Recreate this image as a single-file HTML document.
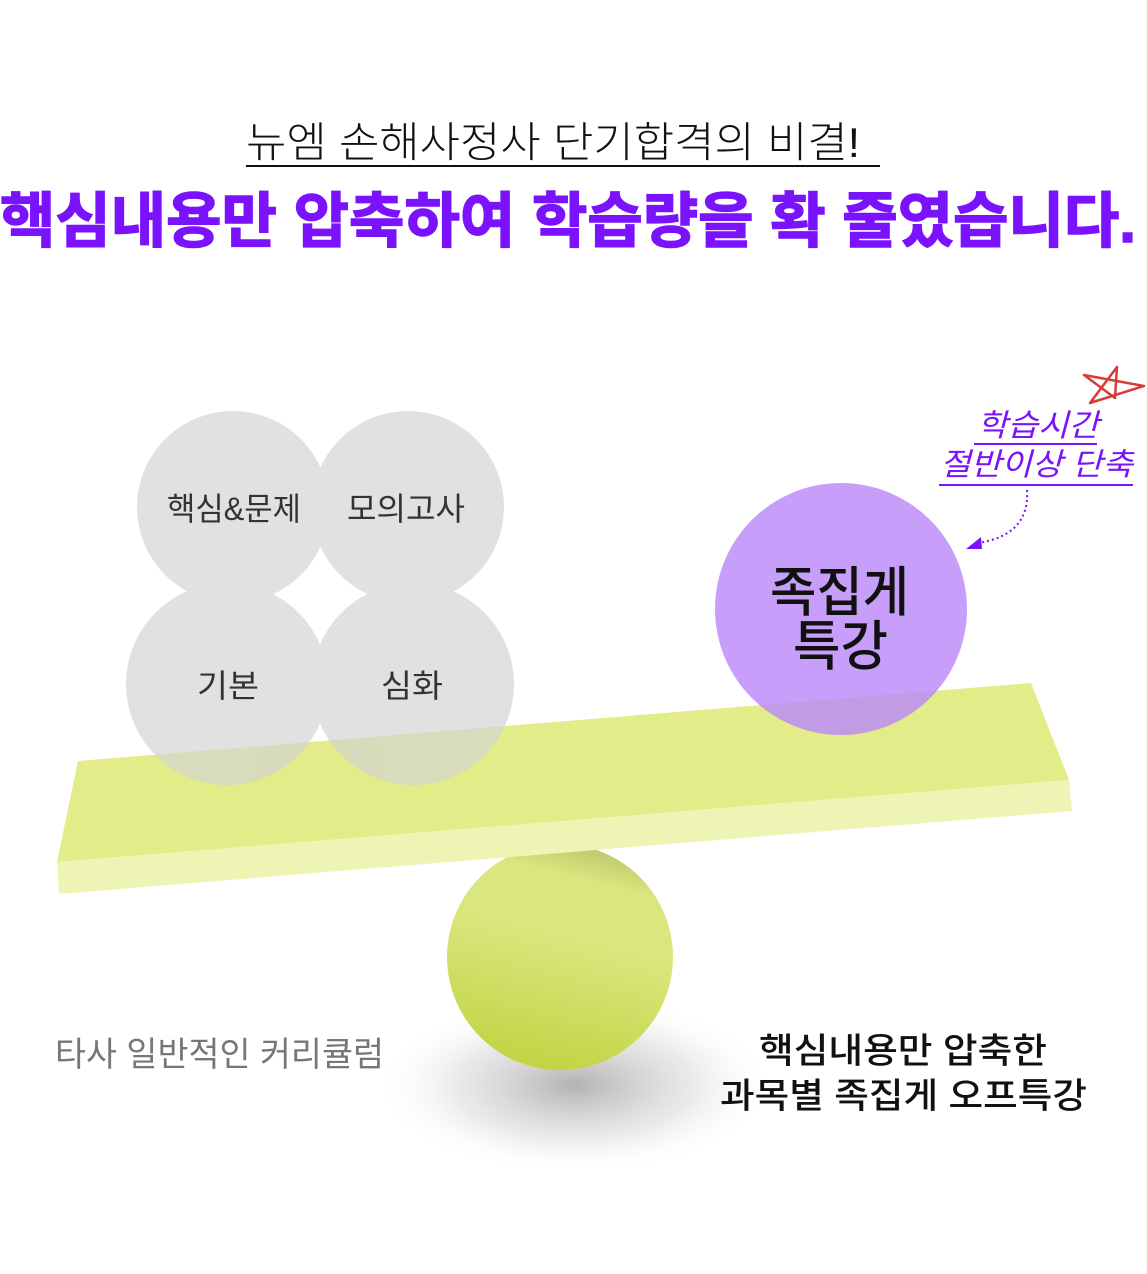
<!DOCTYPE html>
<html><head><meta charset="utf-8"><style>
html,body{margin:0;padding:0;background:#fff}
svg{display:block}
text{font-family:"Liberation Sans","Noto Sans CJK KR",sans-serif}
</style></head><body>
<svg width="1147" height="1274" viewBox="0 0 1147 1274" xmlns="http://www.w3.org/2000/svg">
<defs>
<radialGradient id="sh" cx="0.5" cy="0.5" r="0.5">
<stop offset="0" stop-color="#999" stop-opacity="0.75"/>
<stop offset="0.6" stop-color="#bbb" stop-opacity="0.3"/>
<stop offset="1" stop-color="#fff" stop-opacity="0"/>
</radialGradient>
<linearGradient id="ball" x1="0.35" y1="1" x2="0.6" y2="0">
<stop offset="0" stop-color="#c1d342"/>
<stop offset="0.6" stop-color="#dae77e"/>
<stop offset="0.85" stop-color="#dbe67f"/>
<stop offset="1" stop-color="#bcc86c"/>
</linearGradient>
</defs>

<text x="246" y="157" font-size="42" font-weight="300" fill="#111" textLength="614" lengthAdjust="spacingAndGlyphs">뉴엠 손해사정사 단기합격의 비결!</text>
<rect x="246" y="165" width="634" height="2" fill="#111"/>
<text x="568" y="242" font-size="60" font-weight="bold" fill="#7a12fb" text-anchor="middle" textLength="1136" lengthAdjust="spacingAndGlyphs" stroke="#7a12fb" stroke-width="1.5">핵심내용만 압축하여 학습량을 확 줄였습니다.</text>

<ellipse cx="575" cy="1085" rx="200" ry="90" fill="url(#sh)"/>
<circle cx="560" cy="957" r="113" fill="url(#ball)"/>

<polygon points="78,761 1031,683 1069,780 57,862" fill="#e2ec88"/>
<polygon points="57,862 1069,780 1072,811 59,894" fill="#eef5b4"/>

<g fill="#d2d4d4" opacity="0.68">
<circle cx="233" cy="507" r="96"/>
<circle cx="408" cy="507" r="96"/>
<circle cx="227" cy="684" r="101"/>
<circle cx="413" cy="684" r="101"/>
</g>
<g font-size="32" fill="#333" lengthAdjust="spacingAndGlyphs">
<text x="167" y="520" textLength="134" lengthAdjust="spacingAndGlyphs">핵심&amp;문제</text>
<text x="347" y="520" textLength="118" lengthAdjust="spacingAndGlyphs">모의고사</text>
<text x="197" y="697" textLength="62" lengthAdjust="spacingAndGlyphs">기본</text>
<text x="381" y="697" textLength="62" lengthAdjust="spacingAndGlyphs">심화</text>
</g>

<circle cx="841" cy="609" r="126" fill="#b987fa" opacity="0.8"/>
<text x="770" y="611" font-size="54" fill="#111" font-weight="500" textLength="139" lengthAdjust="spacingAndGlyphs">족집게</text>
<text x="793" y="665" font-size="54" fill="#111" font-weight="500" textLength="95" lengthAdjust="spacingAndGlyphs">특강</text>

<g fill="#7a12fb" font-style="italic" font-size="31">
<text x="977" y="436" textLength="122" lengthAdjust="spacingAndGlyphs">학습시간</text>
<text x="940" y="475" textLength="193" lengthAdjust="spacingAndGlyphs">절반이상 단축</text>
</g>
<rect x="974" y="443" width="123" height="2" fill="#7a12fb"/>
<rect x="939" y="484" width="194" height="2" fill="#7a12fb"/>
<path d="M1027 490 Q1030 535 978 543" fill="none" stroke="#7a12fb" stroke-width="2" stroke-dasharray="2,3"/>
<polygon points="966,549 981,537 982,549" fill="#7a12fb"/>
<path d="M1090 403 L1117 367 L1115 398 L1084 375 L1144 386 Z" fill="none" stroke="#d93a3a" stroke-width="2.5" stroke-linejoin="round"/>

<text x="55" y="1066" font-size="34" fill="#777" textLength="329" lengthAdjust="spacingAndGlyphs">타사 일반적인 커리큘럼</text>
<text x="759" y="1063" font-size="35" fill="#111" font-weight="500" textLength="288" lengthAdjust="spacingAndGlyphs">핵심내용만 압축한</text>
<text x="720" y="1108" font-size="35" fill="#111" font-weight="500" textLength="367" lengthAdjust="spacingAndGlyphs">과목별 족집게 오프특강</text>
</svg>
</body></html>
